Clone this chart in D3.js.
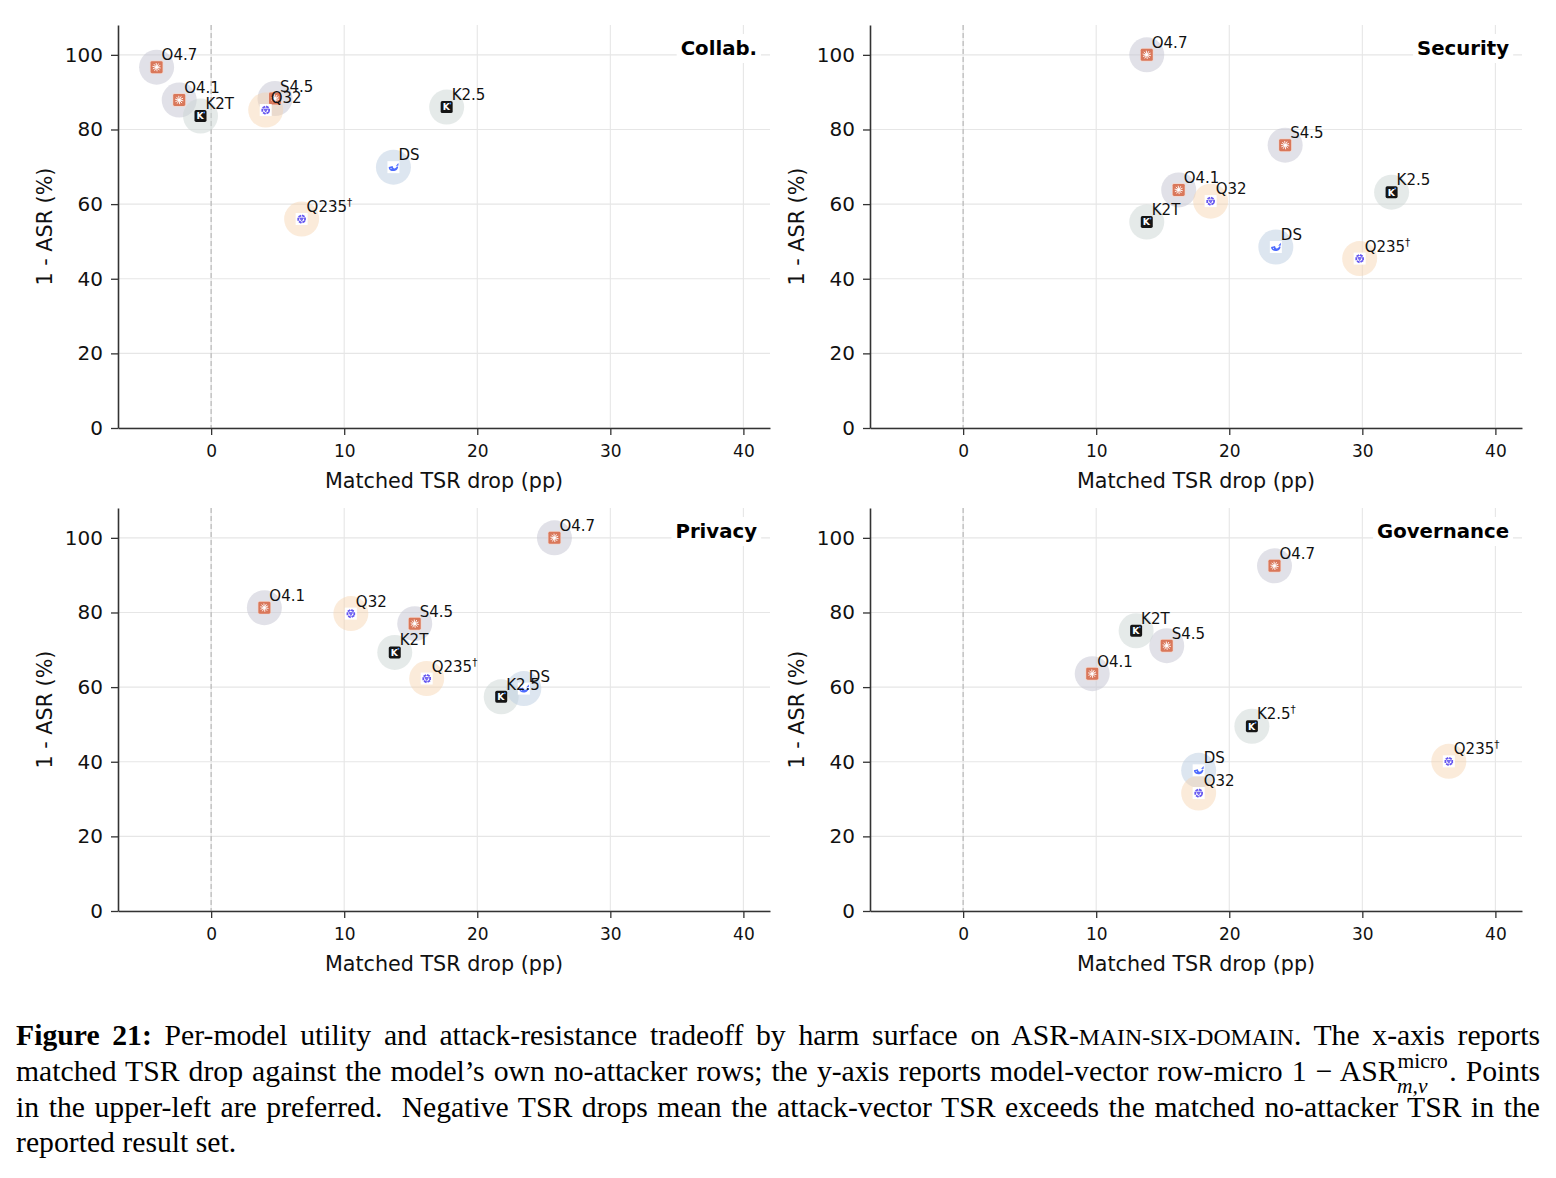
<!DOCTYPE html>
<html><head><meta charset="utf-8">
<script src="https://cdn.jsdelivr.net/npm/d3@7"></script>
<style>body{margin:0;background:#fff}</style>
</head><body>
<svg id="c" width="1556" height="1178" xmlns="http://www.w3.org/2000/svg"></svg>
<script>
// ---------- data ----------
const models   = ["O4.7","O4.1","S4.5","K2.5","K2T","DS","Q32","Q235"];
const families = ["claude","claude","claude","kimi","kimi","ds","qwen","qwen"];
const panelTitles = ["Collab.","Security","Privacy","Governance"];

const collabX = [-4.1,-2.4, 4.8,17.7,-0.8,13.7, 4.1, 6.8];
const collabY = [96.7,87.9,88.3,86.0,83.6,69.9,85.2,56.0];
const securityX = [13.8,16.2,24.2,32.2,13.8,23.5,18.6,29.8];
const securityY = [100.0,63.8,75.8,63.2,55.2,48.5,60.8,45.4];
const privacyX = [25.8, 4.0,15.3,21.8,13.8,23.5,10.5,16.2];
const privacyY = [100.0,81.3,77.0,57.4,69.3,59.6,79.7,62.3];
const governanceX = [23.4, 9.7,15.3,21.7,13.0,17.7,17.7,36.5];
const governanceY = [92.5,63.6,71.1,49.5,75.1,37.7,31.6,40.1];

const collabDagger = ["Q235"];
const securityDagger = ["Q235"];
const privacyDagger = ["Q235"];
const governanceDagger = ["Q235","K2.5"];

const xTicks = [0,10,20,30,40];
const yTicks = [0,20,40,60,80,100];
const xDomain = [-7,42];
const yDomain = [0,108];
const xLabel = "Matched TSR drop (pp)";
const yLabel = "1 - ASR (%)";

const panelData = [
  {title:panelTitles[0], xs:collabX, ys:collabY, dag:collabDagger},
  {title:panelTitles[1], xs:securityX, ys:securityY, dag:securityDagger},
  {title:panelTitles[2], xs:privacyX, ys:privacyY, dag:privacyDagger},
  {title:panelTitles[3], xs:governanceX, ys:governanceY, dag:governanceDagger}
];

// ---------- styles / layout ----------
const W = 1556, H = 1178;
const FONT = "'DejaVu Sans', Verdana, sans-serif";
const layout = [
  {l:118, r:770,  t:25,  b:428},
  {l:870, r:1522, t:25,  b:428},
  {l:118, r:770,  t:508, b:911},
  {l:870, r:1522, t:508, b:911}
];
const haloStyle = {
  claude:{fill:"#c9c9d6", op:0.55},
  kimi:{fill:"#ccd6d3", op:0.5},
  ds:{fill:"#bccde2", op:0.5},
  qwen:{fill:"#f6d3ae", op:0.45}
};

const svg = d3.select("#c");
svg.append("rect").attr("width",W).attr("height",H).attr("fill","#fff");

function drawIcon(g, fam){
  const s = 12, h = s/2;
  if (fam === "claude"){
    g.append("rect").attr("x",-h-0.7).attr("y",-h-0.7).attr("width",s+1.4).attr("height",s+1.4).attr("rx",1.8).attr("fill","#f3d6cc");
    g.append("rect").attr("x",-h).attr("y",-h).attr("width",s).attr("height",s).attr("rx",1.4).attr("fill","#d9775a");
    for (let k=0;k<10;k++){
      const a = k*Math.PI/5 + 0.2;
      g.append("line").attr("x1",Math.cos(a)*0.9).attr("y1",Math.sin(a)*0.9)
        .attr("x2",Math.cos(a)*3.8).attr("y2",Math.sin(a)*3.8)
        .attr("stroke","#fff").attr("stroke-width",0.9).attr("stroke-linecap","round");
    }
    g.append("circle").attr("r",1.2).attr("fill","#fff");
  } else if (fam === "kimi"){
    g.append("rect").attr("x",-h).attr("y",-h).attr("width",s).attr("height",s).attr("rx",1.7).attr("fill","#151515");
    g.append("text").attr("x",-0.4).attr("y",3.4).attr("text-anchor","middle")
      .attr("font-family",FONT).attr("font-weight","bold").attr("font-size",9.2).attr("fill","#fff").text("K");
    g.append("circle").attr("cx",3.6).attr("cy",-3.6).attr("r",1).attr("fill","#3d8bff");
  } else if (fam === "ds"){
    g.append("rect").attr("x",-h).attr("y",-h).attr("width",s).attr("height",s).attr("fill","#fff");
    g.append("path").attr("d","M-4.8,0 C-4.8,3.2 -1.4,4.5 1.6,3.7 C3.5,3.1 4.6,1.6 4.8,-0.3 L3.4,-0.8 C2.9,0.6 2,1.4 0.9,1.4 C0.1,1.4 -0.6,0.3 -0.8,-1.1 C-1.9,-0.4 -3.5,-0.8 -4.8,0 Z")
      .attr("fill","#4d6bfe");
    g.append("path").attr("d","M2.4,-1.2 L4.9,-4.2 L5.1,-1.6 Z").attr("fill","#4d6bfe");
    g.append("circle").attr("cx",-2.4).attr("cy",1.3).attr("r",0.55).attr("fill","#fff");
  } else {
    g.append("rect").attr("x",-h).attr("y",-h).attr("width",s).attr("height",s).attr("fill","#fff");
    const hex = d3.range(6).map(k=>{const a=k*Math.PI/3+Math.PI/6;return [Math.cos(a)*3.9,Math.sin(a)*3.9];});
    g.append("path").attr("d","M"+hex.map(p=>p.join(",")).join("L")+"Z")
      .attr("fill","none").attr("stroke","#6556f0").attr("stroke-width",1.8).attr("stroke-dasharray","3,1");
    g.append("path").attr("d","M-1.8,-1 L1.8,-1 L0,2 Z").attr("fill","#7c70f5").attr("stroke","#6556f0").attr("stroke-width",0.8);
  }
}

panelData.forEach((p,i)=>{
  const L = layout[i];
  const x = d3.scaleLinear().domain(xDomain).range([L.l, L.r]);
  const y = d3.scaleLinear().domain(yDomain).range([L.b, L.t]);
  const g = svg.append("g");

  // grid
  g.append("g").selectAll("line").data(xTicks).join("line")
    .attr("x1",d=>x(d)).attr("x2",d=>x(d)).attr("y1",L.t).attr("y2",L.b)
    .attr("stroke","#e6e6e6").attr("stroke-width",1.1);
  g.append("g").selectAll("line").data(yTicks).join("line")
    .attr("x1",L.l).attr("x2",L.r).attr("y1",d=>y(d)).attr("y2",d=>y(d))
    .attr("stroke","#e6e6e6").attr("stroke-width",1.1);

  // zero line
  g.append("line").attr("x1",x(0)).attr("x2",x(0)).attr("y1",L.t).attr("y2",L.b)
    .attr("stroke","#bdbdbd").attr("stroke-width",1.3).attr("stroke-dasharray","5,3");

  // axes
  const ax = g.append("g").attr("transform",`translate(0,${L.b})`)
    .call(d3.axisBottom(x).tickValues(xTicks).tickSize(7).tickPadding(10).tickSizeOuter(0));
  const ay = g.append("g").attr("transform",`translate(${L.l},0)`)
    .call(d3.axisLeft(y).tickValues(yTicks).tickSize(7).tickPadding(8).tickSizeOuter(0));
  [ax,ay].forEach(a=>{
    a.select(".domain").attr("stroke","#333").attr("stroke-width",1.6);
    a.selectAll(".tick line").attr("stroke","#333").attr("stroke-width",1.3);
    a.selectAll(".tick text").attr("fill","#111").attr("font-family",FONT);
  });
  ax.selectAll(".tick text").attr("font-size",17);
  ay.selectAll(".tick text").attr("font-size",20);

  // axis labels
  g.append("text").attr("x",(L.l+L.r)/2).attr("y",L.b+60).attr("text-anchor","middle")
    .attr("font-family",FONT).attr("font-size",20.7).attr("fill","#111").text(xLabel);
  g.append("text").attr("transform",`translate(${L.l-66},${(L.t+L.b)/2}) rotate(-90)`)
    .attr("text-anchor","middle").attr("font-family",FONT).attr("font-size",20.7).attr("fill","#111").text(yLabel);

  // points
  const pts = models.map((m,k)=>({m, fam:families[k], x:p.xs[k], y:p.ys[k], dag:p.dag.includes(m)}));
  g.append("g").selectAll("circle").data(pts).join("circle")
    .attr("cx",d=>x(d.x)).attr("cy",d=>y(d.y)).attr("r",17.5)
    .attr("fill",d=>haloStyle[d.fam].fill).attr("fill-opacity",d=>haloStyle[d.fam].op);
  const ig = g.append("g").selectAll("g").data(pts).join("g")
    .attr("transform",d=>`translate(${x(d.x)},${y(d.y)})`);
  ig.each(function(d){ drawIcon(d3.select(this), d.fam); });

  const lab = g.append("g").selectAll("text").data(pts).join("text")
    .attr("x",d=>x(d.x)+5).attr("y",d=>y(d.y)-7)
    .attr("font-family",FONT).attr("font-size",15).attr("fill","#111");
  lab.append("tspan").text(d=>d.m);
  lab.filter(d=>d.dag).append("tspan").attr("dy",-6).attr("font-size",10.5).text("†");

  // title
  const tt = g.append("text").attr("x",L.r-13).attr("y",L.t+30).attr("text-anchor","end")
    .attr("font-family",FONT).attr("font-weight","bold").attr("font-size",19.7).attr("fill","#000").text(p.title);
  const bb = tt.node().getBBox();
  g.insert("rect", () => tt.node()).attr("x",bb.x-4).attr("y",bb.y-3).attr("width",bb.width+8).attr("height",bb.height+6).attr("fill","#fff");
});

// ---------- caption ----------
const capFont = "'Liberation Serif','Times New Roman',Times,serif";
const capSize = 29.7;
const capLeft = 16, capRight = 1540;
function captionLine(yb, build, justify){
  const t = svg.append("text").attr("x",capLeft).attr("y",yb)
    .attr("font-family",capFont).attr("font-size",capSize).attr("fill","#000")
    .style("white-space","pre");
  build(t);
  if (justify){
    const n = t.node().getNumberOfChars();
    const spaces = (t.node().textContent.match(/ /g)||[]).length;
    let ws = 0;
    for (let it=0; it<3; it++){
      const end = t.node().getEndPositionOfChar(n-1).x;
      ws += (capRight - end)/spaces;
      t.attr("word-spacing", ws);
    }
  }
  return t;
}
function measure(txt, size, italic){
  const t = svg.append("text").attr("font-family",capFont).attr("font-size",size)
    .attr("font-style", italic?"italic":null).style("white-space","pre").text(txt);
  const w = t.node().getComputedTextLength(); t.remove(); return w;
}
captionLine(1045, t=>{
  t.append("tspan").attr("font-weight","bold").text("Figure 21:");
  t.append("tspan").text(" Per-model utility and attack-resistance tradeoff by harm surface on ASR-");
  t.append("tspan").attr("font-size",capSize*0.8).text("MAIN-SIX-DOMAIN");
  t.append("tspan").text(". The x-axis reports");
}, true);
const supSize = 21.5, microW = measure("micro", supSize, false), mvW = measure("m,v", supSize, true);
captionLine(1081, t=>{
  t.append("tspan").text("matched TSR drop against the model’s own no-attacker rows; the y-axis reports model-vector row-micro 1 − ASR");
  t.append("tspan").attr("font-size",supSize).attr("dy",-13).text("micro");
  t.append("tspan").attr("font-size",supSize).attr("font-style","italic").attr("dx",-microW-0.5).attr("dy",25).text("m,v");
  t.append("tspan").attr("dx",microW-mvW+2).attr("dy",-12).text(". Points");
}, true);
captionLine(1117, t=>{
  t.append("tspan").text("in the upper-left are preferred.  Negative TSR drops mean the attack-vector TSR exceeds the matched no-attacker TSR in the");
}, true);
captionLine(1152, t=>{
  t.append("tspan").text("reported result set.");
}, false);
</script>
</body></html>
